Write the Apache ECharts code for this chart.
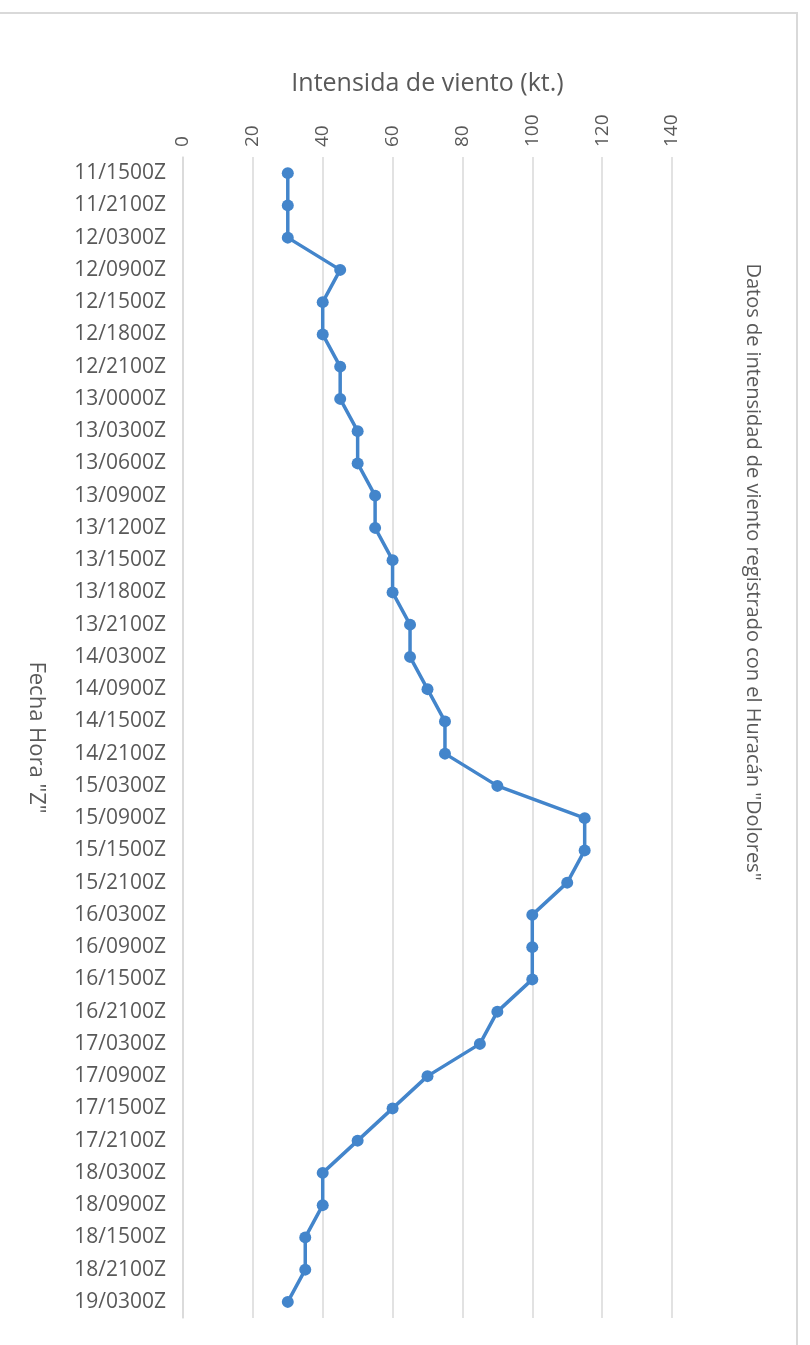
<!DOCTYPE html>
<html>
<head>
<meta charset="utf-8">
<script src="https://cdn.jsdelivr.net/npm/echarts@6/dist/echarts.min.js"></script>
<style>
    html, body { margin: 0; padding: 0; background: #fff; }
    #main { width: 810px; height: 1345px; }
</style>
</head>
<body>
<div id="main"></div>
<script>
// fechas / horas (Z)
var fechas = ['11/1500Z', '11/2100Z', '12/0300Z', '12/0900Z', '12/1500Z', '12/1800Z',
    '12/2100Z', '13/0000Z', '13/0300Z', '13/0600Z', '13/0900Z', '13/1200Z',
    '13/1500Z', '13/1800Z', '13/2100Z', '14/0300Z', '14/0900Z', '14/1500Z',
    '14/2100Z', '15/0300Z', '15/0900Z', '15/1500Z', '15/2100Z', '16/0300Z',
    '16/0900Z', '16/1500Z', '16/2100Z', '17/0300Z', '17/0900Z', '17/1500Z',
    '17/2100Z', '18/0300Z', '18/0900Z', '18/1500Z', '18/2100Z', '19/0300Z'];

// intensidad (kt.)
var intensidad = [30, 30, 30, 45, 40, 40, 45, 45, 50, 50, 55, 55,
    60, 60, 65, 65, 70, 75, 75, 90, 115, 115, 110, 100,
    100, 100, 90, 85, 70, 60, 50, 40, 40, 35, 35, 30];

var tituloTexto = 'Datos de intensidad de viento registrado con el Huracán "Dolores"';
var ejeX = 'Intensida de viento (kt.)';
var ejeY = 'Fecha Hora "Z"';

var gris = '#595959';
var rejilla = '#d9d9d9';

var myChart = echarts.init(document.getElementById('main'));

var option = {
    backgroundColor: '#fff',
    animation: false,
    textStyle: { fontFamily: 'Open Sans' },
    graphic: [
        {
            // marco del grafico
            type: 'rect',
            shape: { x: -5, y: 13, width: 802, height: 1400 },
            style: { fill: 'none', stroke: rejilla, lineWidth: 2 }
        },
        {
            type: 'text',
            x: 753,
            y: 572,
            rotation: -Math.PI / 2,
            style: {
                text: tituloTexto,
                fill: gris,
                font: '20px "Open Sans"',
                align: 'center',
                verticalAlign: 'middle'
            }
        }
    ],
    grid: {
        left: 183,
        right: 138,
        top: 157,
        bottom: 27
    },
    xAxis: {
        type: 'value',
        position: 'top',
        min: 0,
        max: 140,
        interval: 20,
        name: ejeX,
        nameLocation: 'middle',
        nameGap: 61,
        nameTextStyle: { color: gris, fontSize: 25 },
        axisLine: { show: false },
        axisTick: { show: false },
        axisLabel: { rotate: -90, color: gris, fontSize: 19, margin: 10 },
        splitLine: { lineStyle: { color: rejilla, width: 1.5 } }
    },
    yAxis: {
        type: 'category',
        inverse: true,
        data: fechas,
        name: ejeY,
        nameLocation: 'middle',
        nameRotate: -90,
        nameGap: 136,
        nameTextStyle: { color: gris, fontSize: 22 },
        axisLine: { lineStyle: { color: rejilla, width: 1.5 } },
        axisTick: { length: 9, lineStyle: { color: rejilla } },
        axisLabel: { color: gris, fontSize: 21, margin: 17 },
        splitLine: { show: false }
    },
    series: [
        {
            type: 'line',
            data: intensidad,
            color: '#4385cb',
            lineStyle: { width: 3.5 },
            symbol: 'circle',
            symbolSize: 12,
            itemStyle: { color: '#4385cb' }
        }
    ]
};

myChart.setOption(option, true);
</script>
</body>
</html>
